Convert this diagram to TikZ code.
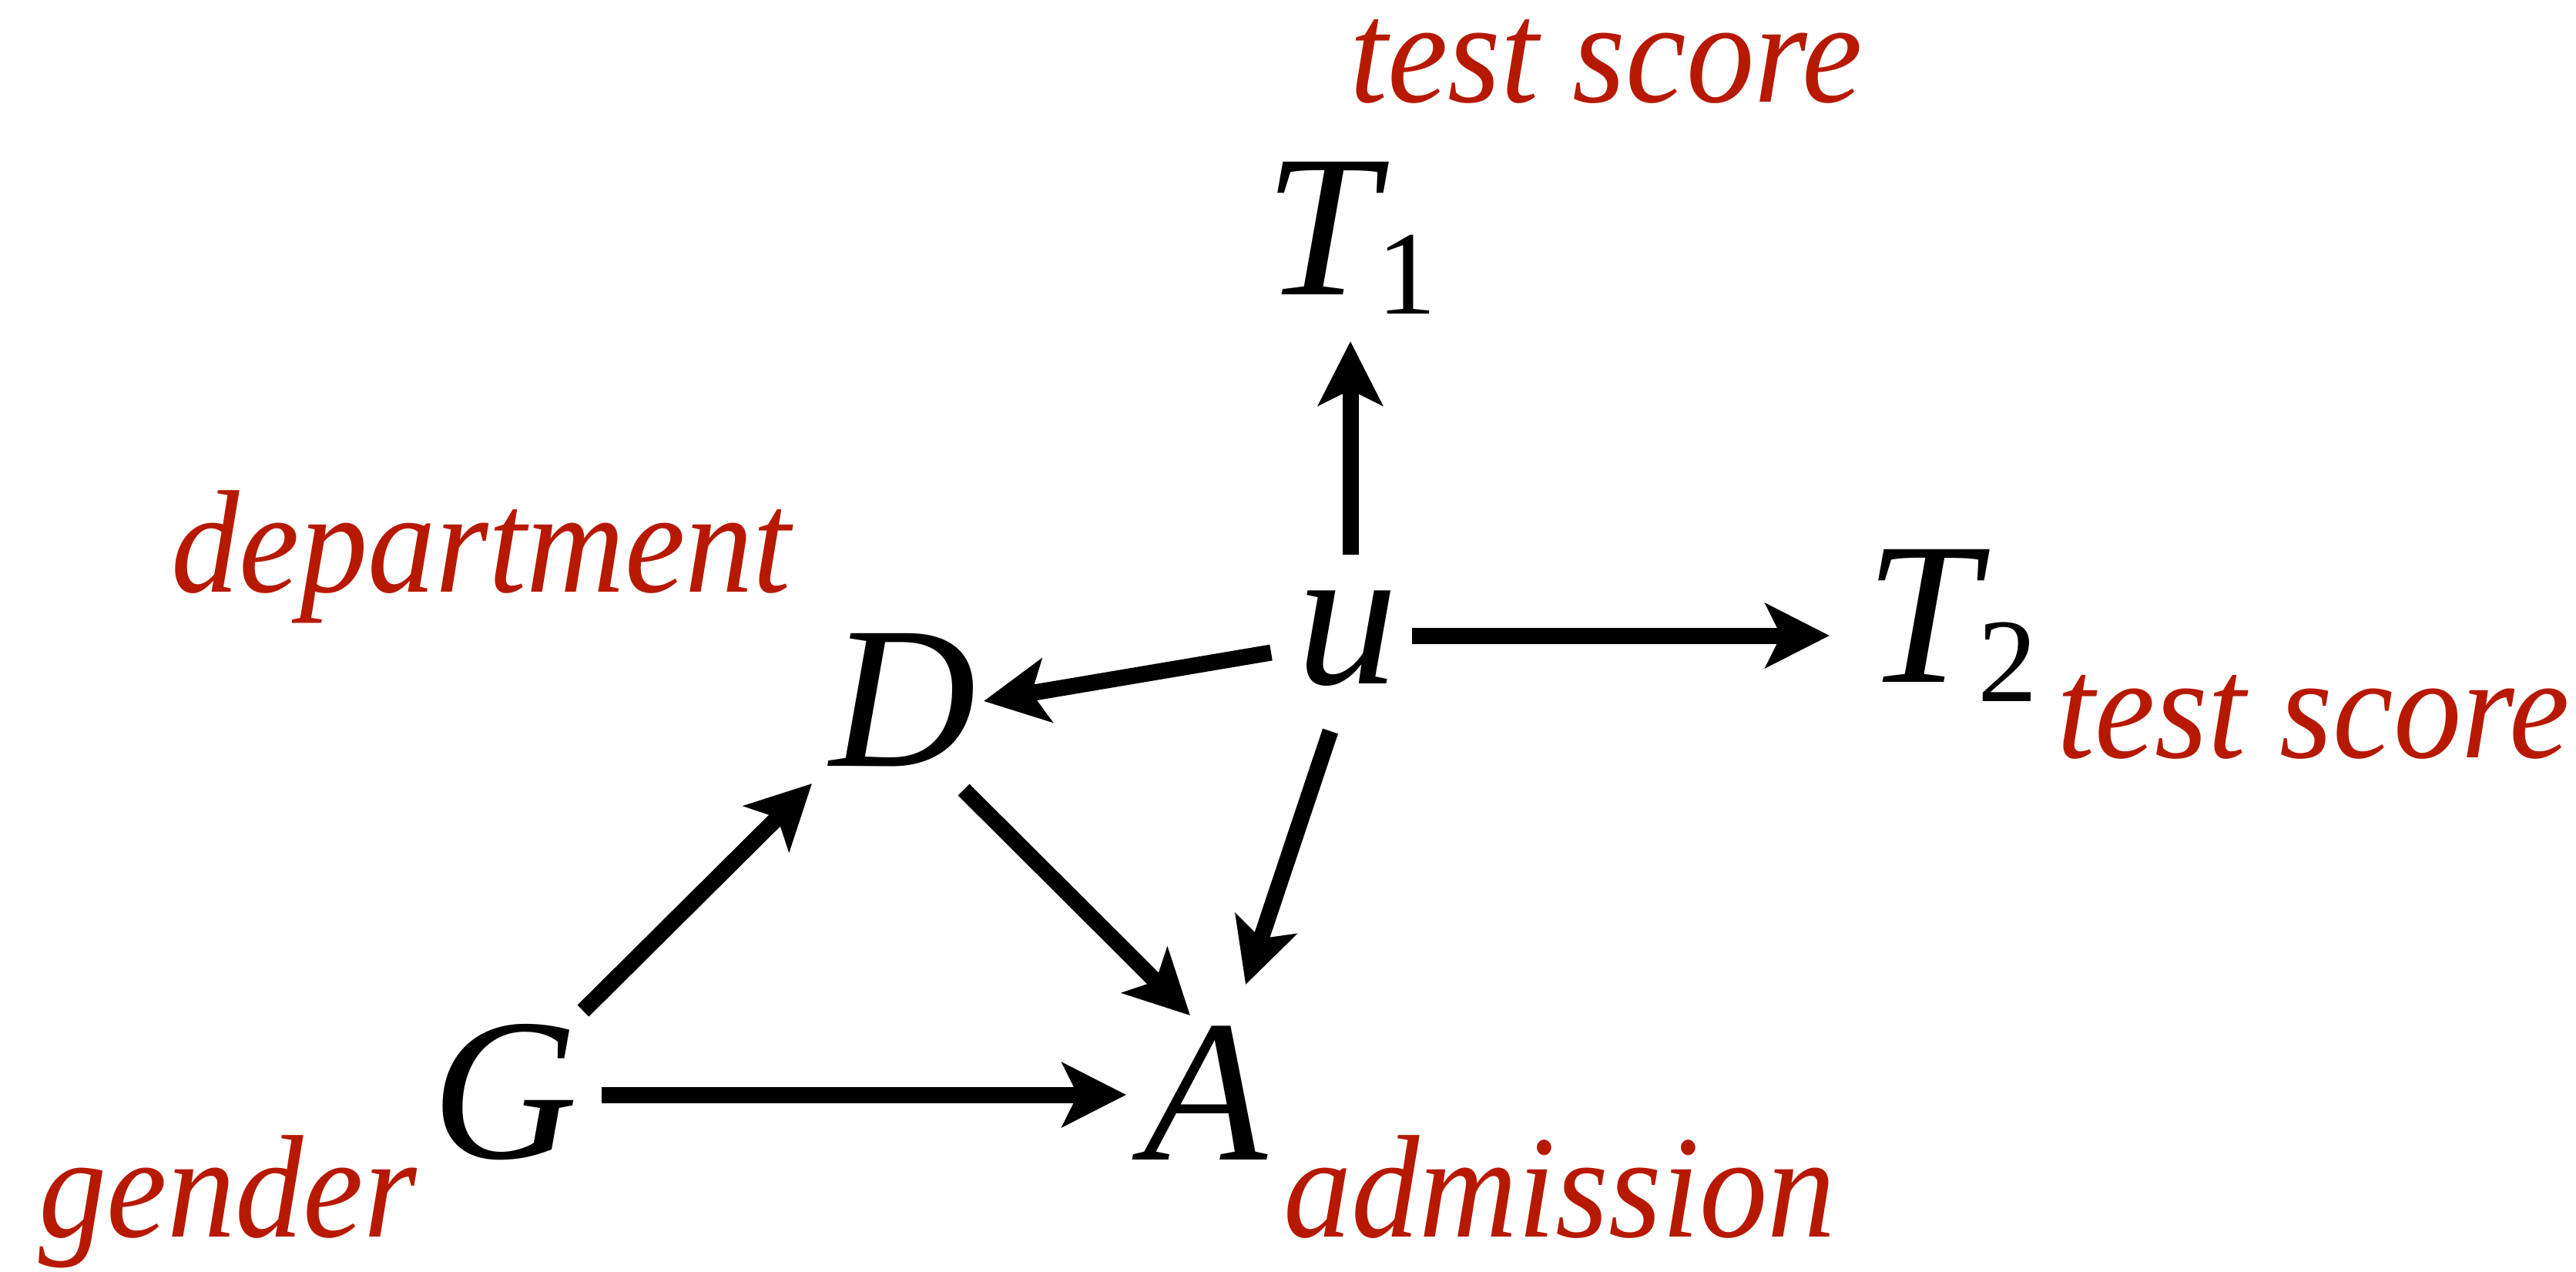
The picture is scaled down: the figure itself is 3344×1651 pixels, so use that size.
\documentclass[tikz,border=0pt]{standalone}
\usepackage{fontspec}
\setmainfont{Liberation Serif}
\newfontfamily\labfont[FakeStretch=0.93]{Liberation Serif}
\usetikzlibrary{arrows.meta}
\definecolor{labred}{RGB}{183,25,0}
\newcommand\subnum[1]{{\upshape\fontsize{155}{155}\selectfont\raisebox{-25pt}{#1}}}
\begin{document}
\begin{tikzpicture}[x=1pt,y=-1pt,
  big/.style={inner sep=0pt, anchor=base west, font=\fontsize{263}{263}\selectfont\itshape},
  lab/.style={inner sep=0pt, anchor=base west, text height=120pt, text=labred, font=\labfont\fontsize{190}{190}\selectfont\itshape},
  arr/.style={line width=21pt, -{Stealth[length=83pt,width=83pt,inset=20pt]}}]
\useasboundingbox (0,0) rectangle (3344,1651);
% variables
\node[big] (T1) at (1641,382) {T\subnum{1}};
\node[big] (u)  at (1683,887) {u};
\node[big] (T2) at (2421,885) {T\subnum{2}};
\node[big] (D)  at (1077,994) {D};
\node[big] (G)  at (560,1503) {G};
\node[big] (A)  at (1484,1505) {A};
% labels
\node[lab] (lT1) at (1752,133) {test score};
\node[lab] (lT2) at (2670,983) {test score};
\node[lab] (lD)  at (222,768) {department};
\node[lab] (lG)  at (50,1605) {gender};
\node[lab] (lA)  at (1666,1605) {admission};
% arrows
\draw[arr] ([shift={(70,-167)}]u.base west) -- ([shift={(112,61)}]T1.base west);
\draw[arr] ([shift={(150,-62)}]u.base west) -- ([shift={(-46,-60)}]T2.base west);
\draw[arr] ([shift={(-33,-40)}]u.base west) -- ([shift={(200,-84)}]D.base west);
\draw[arr] ([shift={(44,62)}]u.base west) -- ([shift={(133,-227)}]A.base west);
\draw[arr] ([shift={(174,31)}]D.base west) -- ([shift={(61,-187)}]A.base west);
\draw[arr] ([shift={(197,-191)}]G.base west) -- ([shift={(-23,23)}]D.base west);
\draw[arr] ([shift={(221,-82)}]G.base west) -- ([shift={(-22,-84)}]A.base west);
\end{tikzpicture}
\end{document}
